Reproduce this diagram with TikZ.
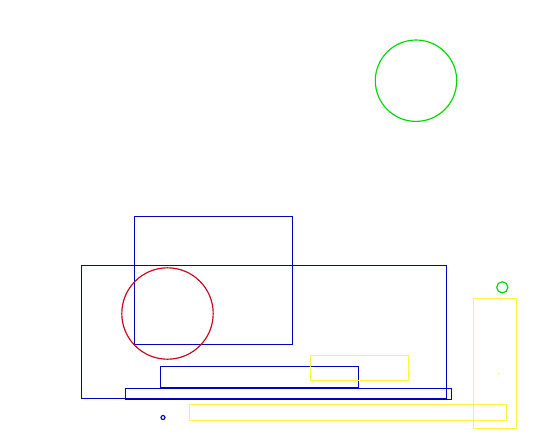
\documentclass[tikz,border=0pt]{standalone}
\definecolor{shapeblue}{RGB}{0,0,190}
\definecolor{shapered}{RGB}{200,0,30}
\definecolor{shapegreen}{RGB}{0,215,0}
\definecolor{shapeyellow}{RGB}{255,245,60}
\begin{document}
\begin{tikzpicture}[x=0.02cm, y=-0.02cm, line width=0.65pt,
    bluebox/.style={draw=shapeblue},
    yellowbox/.style={draw=shapeyellow},
    greenring/.style={draw=shapegreen},
    redring/.style={draw=shapered}]
                % Canvas
                \useasboundingbox[fill=white] (0, 0) rectangle (544, 433);

                % Blue rectangles
                \draw[bluebox] (81.5, 265.5) rectangle (446.5, 398.5);
                \draw[bluebox] (134.5, 216.5) rectangle (292.5, 344.5);
                \draw[bluebox] (160.5, 366.5) rectangle (358.5, 387.5);
                \draw[bluebox] (125.5, 388.5) rectangle (451.5, 399.5);
                \draw[bluebox] (163, 417.5) circle (2);

                % Red circle
                \draw[redring] (167.5, 313.5) circle (45.7);

                % Green circles
                \draw[greenring] (416, 80.7) circle (40.7);
                \draw[greenring] (502.3, 287.3) circle (5.6);

                % Yellow rectangles
                \draw[yellowbox] (310.5, 355.5) rectangle (408.5, 380.5);
                \draw[yellowbox] (189.5, 404.5) rectangle (506.5, 420.5);
                \draw[yellowbox] (473.5, 298.5) rectangle (516.5, 428.5);
                \fill[shapeyellow] (498.7, 373.7) circle (0.8);
            \end{tikzpicture}
\end{document}
